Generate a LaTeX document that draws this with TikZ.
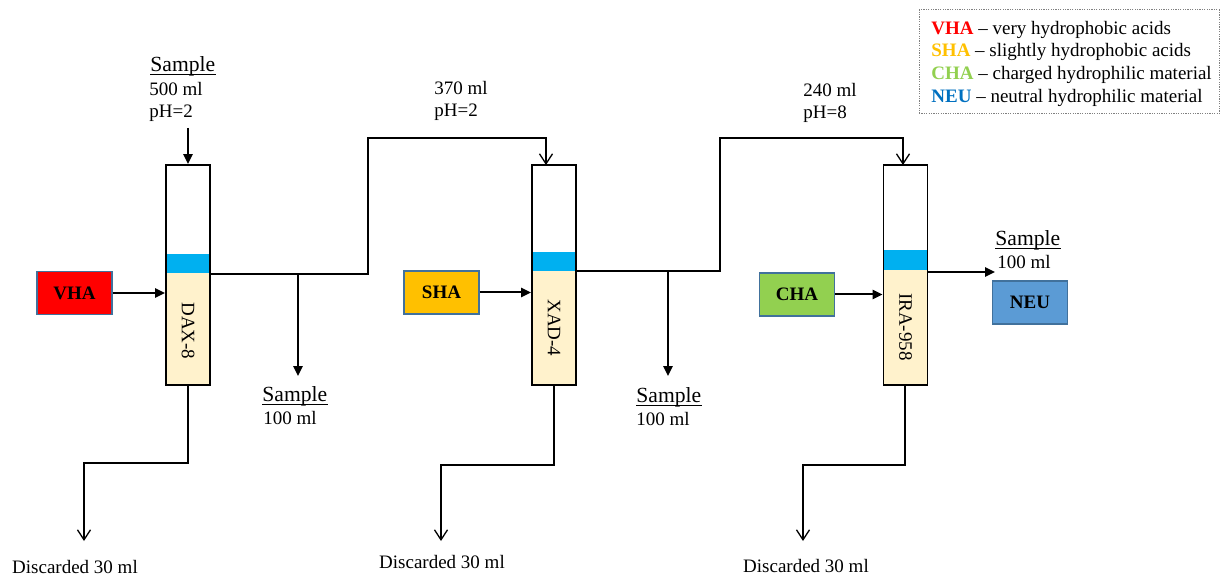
\documentclass[tikz,border=0pt]{standalone}
\usepackage{fontspec}
\setmainfont{Liberation Serif}
\usetikzlibrary{arrows.meta}
\definecolor{band}{HTML}{00B0F0}
\definecolor{resin}{HTML}{FFF2CC}
\definecolor{vhared}{HTML}{FF0000}
\definecolor{shaorange}{HTML}{FFC000}
\definecolor{chagreen}{HTML}{92D050}
\definecolor{neublue}{HTML}{5B9BD5}
\definecolor{boxedge}{HTML}{41719C}
\definecolor{neutext}{HTML}{0070C0}

\begin{document}
\begin{tikzpicture}[x=0.5pt,y=-0.5pt,
  font=\fontsize{9.5}{11}\selectfont,
  flow/.style={line width=0.65pt},
  feed/.style={line width=1pt,-{Triangle[length=5pt,width=4.6pt]}},
  waste/.style={flow,-{Straight Barb[length=5pt,width=6.5pt]}},
  column/.style={draw,line width=0.95pt,minimum width=22pt,minimum height=110pt,inner sep=0pt},
  fraction/.style={draw=boxedge,line width=0.7pt,minimum width=37.5pt,minimum height=21.5pt,
    inner sep=0pt,font=\fontsize{9.5}{11}\selectfont\bfseries},
  lbl/.style={anchor=base west,inner sep=0pt},
  heading/.style={lbl,font=\fontsize{10.8}{13}\selectfont},
  rule/.style={line width=0.5pt},
  legendbox/.style={draw=gray,line width=0.5pt,dash pattern=on 0.6pt off 0.6pt,
    minimum width=150pt,minimum height=52pt,inner sep=0pt},
]
\useasboundingbox (0,0) rectangle (1221,577);

% resin columns: beige packing, blue band, outline and rotated name
\foreach \n/\x/\bt/\bb/\ly/\lab in {c1/188/254/273/331/DAX-8,
                                    c2/554/252/271/328/XAD-4,
                                    c3/905.5/250/270/327/IRA-958}{
  \fill[resin] (\x-22,\bb) rectangle (\x+22,385);
  \fill[band] (\x-22,\bt) rectangle (\x+22,\bb);
  \node[column] (\n) at (\x,275) {};
  \node[rotate=-90,inner sep=0pt] (\n-name) at (\x,\ly) {\lab};
}

% eluted fractions
\node[fraction,fill=vhared]    (vha) at (74.5,293)   {VHA};
\node[fraction,fill=shaorange] (sha) at (441.5,292.5) {SHA};
\node[fraction,fill=chagreen]  (cha) at (797,294.5)  {CHA};
\node[fraction,fill=neublue]   (neu) at (1030,302.5) {NEU};

\draw[feed] (vha.east) -- (vha.east -| c1.west);
\draw[feed] (sha.east) -- (sha.east -| c2.west);
\draw[feed] (cha.east) -- (cha.east -| c3.west);

% sample feed
\coordinate (feedtop) at (188,128);
\draw[feed] (feedtop) -- (c1.north);
\node[heading] (s0) at (150,72) {Sample\ };
\node[lbl] (s0v) at (149,96) {500 ml};
\node[lbl] (s0p) at (149,118) {pH=2};

% DAX-8 effluent to XAD-4
\coordinate (o1) at (210,274);
\coordinate (t2) at (546,165);
\draw[waste] (o1) -- (368,274) -- (368,138) -- (546,138) -- (t2);
\node[lbl] (s1v) at (434,95) {370 ml};
\node[lbl] (s1p) at (434,117) {pH=2};

% XAD-4 effluent to IRA-958
\coordinate (o2) at (576,271);
\coordinate (t3) at (903,165);
\draw[waste] (o2) -- (720,271) -- (720,138) -- (903,138) -- (t3);
\node[lbl] (s2v) at (803,97) {240 ml};
\node[lbl] (s2p) at (803,119) {pH=8};

% side samples
\coordinate (b1) at (298,274);
\coordinate (b1e) at (298,376);
\draw[feed] (b1) -- (b1e);
\node[heading] (s3) at (262,401) {Sample\ };
\node[lbl] (s3v) at (263,424) {100 ml};

\coordinate (b2) at (668,271);
\coordinate (b2e) at (668,376);
\draw[feed] (b2) -- (b2e);
\node[heading] (s4) at (636,402) {Sample};
\node[lbl] (s4v) at (636,425) {100 ml};

% final effluent
\coordinate (o3) at (928,272);
\coordinate (o3e) at (995,272);
\draw[feed] (o3) -- (o3e);
\node[heading] (s5) at (995,246) {Sample};
\node[lbl] (s5v) at (997,269) {100 ml};

% underlines of the sample headings
\foreach \s in {s0,s3,s4,s5}
  \draw[rule] ([yshift=-1.5pt]\s.base west) -- ([yshift=-1.5pt]\s.base east);

% discarded volumes
\coordinate (d1) at (84,541);
\coordinate (d2) at (441,541);
\coordinate (d3) at (803,541);
\draw[waste] (c1.south) -- (188,463) -- (84,463) -- (d1);
\draw[waste] (554,385) -- (554,465) -- (441,465) -- (d2);
\draw[waste] (905,385) -- (905,465) -- (803,465) -- (d3);
\node[anchor=base,inner sep=0pt] (w1) at (75,573) {Discarded 30 ml};
\node[anchor=base,inner sep=0pt] (w2) at (442,568) {Discarded 30 ml};
\node[anchor=base,inner sep=0pt] (w3) at (806,572) {Discarded 30 ml};

% legend
\node[legendbox] (legend) at (1069,62) {};
\node[lbl] (l1) at (931,35) {\textcolor{vhared}{\textbf{VHA}} – very hydrophobic acids};
\node[lbl] (l2) at (931,57) {\textcolor{shaorange}{\textbf{SHA}} – slightly hydrophobic acids};
\node[lbl] (l3) at (931,80) {\textcolor{chagreen}{\textbf{CHA}} – charged hydrophilic material};
\node[lbl] (l4) at (931,103) {\textcolor{neutext}{\textbf{NEU}} – neutral hydrophilic material};
\end{tikzpicture}
\end{document}
